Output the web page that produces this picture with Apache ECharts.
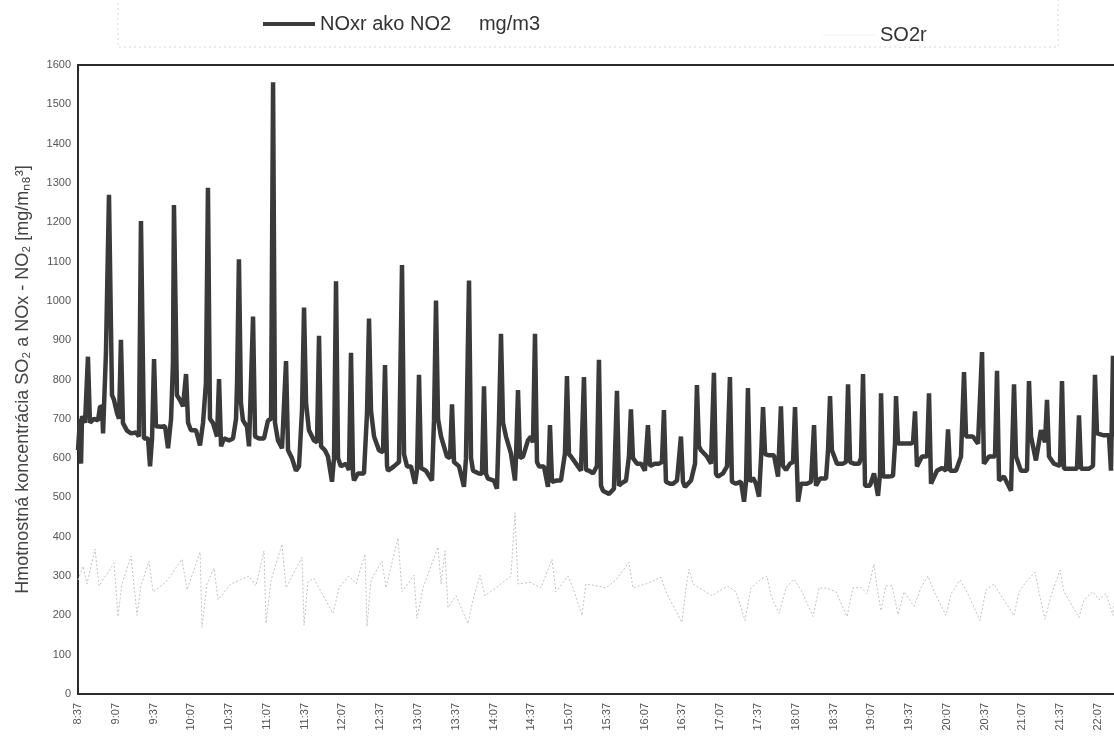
<!DOCTYPE html>
<html><head><meta charset="utf-8">
<script src="https://cdn.jsdelivr.net/npm/echarts@6/dist/echarts.min.js"></script>
<style>html,body{margin:0;padding:0;background:#fff}#c{width:1114px;height:739px}</style>
</head><body><div id="c"></div>
<script>
// x labels every 30 minutes starting at 8:37 (x values = minutes since 8:37)
const timeLabels = ['8:37','9:07','9:37','10:07','10:37','11:07','11:37','12:07','12:37','13:07','13:37','14:07','14:37','15:07','15:37','16:07','16:37','17:07','17:37','18:07','18:37','19:07','19:37','20:07','20:37','21:07','21:37','22:07'];
const noxName = 'NOxr ako NO2     mg/m3';
const so2Name = 'SO2r';
const yTitle = 'Hmotnostná koncentrácia SO₂ a NOx - NO₂ [mg/mₙ₈³]';

// [minutes since 8:37, value]
const noxPoints = [
[0,620],[1.6,700],[2.4,586],[3.2,707],[5.6,690],[7.9,858],[9.5,690],[12.7,700],[15.9,696],[17.5,732],
[19.1,730],[19.9,663],[22.2,868],[24.6,1270],[27.0,760],[28.6,748],[31.0,714],[32.6,700],[34.1,901],[35.7,689],
[38.9,670],[42.1,663],[46.1,665],[48.4,655],[50.0,1203],[52.4,650],[55.6,650],[57.2,579],[58.8,650],[60.4,852],
[61.9,681],[65.9,680],[69.1,681],[71.5,625],[73.9,700],[75.4,842],[76.2,1244],[78.6,760],[81.0,748],[83.4,732],
[85.8,814],[87.4,690],[89.7,671],[93.7,671],[96.9,632],[99.3,690],[101.6,791],[103.2,1288],[104.8,700],[107.2,689],
[110.4,655],[112.0,801],[113.6,630],[115.9,650],[119.9,645],[123.1,650],[125.5,700],[126.3,791],[127.8,1106],[129.4,740],
[131.0,696],[134.2,680],[135.8,630],[139.0,960],[140.6,655],[143.7,650],[147.7,650],[150.9,696],[153.3,700],[154.9,1556],
[156.4,690],[158.8,645],[162.0,625],[165.2,847],[166.8,620],[169.9,600],[173.1,568],[175.5,579],[177.9,722],[179.5,983],
[181.1,740],[183.4,671],[187.4,645],[189.8,640],[191.4,911],[193.0,630],[196.1,620],[198.5,604],[201.7,540],[203.3,600],
[204.9,1050],[206.5,600],[208.8,579],[212.8,586],[215.2,570],[216.8,868],[218.4,560],[219.2,543],[222.3,561],[227.1,561],
[229.5,714],[231.1,955],[232.7,720],[235.1,655],[239.0,620],[242.2,615],[243.8,837],[245.4,580],[246.2,568],[250.9,579],
[254.9,590],[257.3,1091],[258.9,610],[261.3,579],[264.4,579],[267.6,535],[269.2,570],[270.8,812],[272.4,575],[276.3,568],
[281.1,543],[282.7,696],[284.3,1001],[285.9,700],[288.3,655],[293.0,604],[295.4,600],[297.0,737],[298.6,590],[302.6,579],
[306.5,527],[308.1,600],[310.5,1052],[312.1,600],[313.7,568],[318.4,561],[320.8,560],[322.4,783],[324.0,560],[325.6,548],
[330.3,543],[332.7,522],[334.3,696],[335.9,916],[337.5,690],[339.9,655],[343.8,612],[347.0,543],[347.8,600],[349.4,773],
[351.0,600],[353.4,604],[357.3,645],[359.7,655],[361.3,640],[362.9,916],[364.5,590],[366.1,579],[370.0,579],[373.2,527],
[374.8,684],[376.4,540],[380.4,543],[383.5,543],[386.7,612],[388.3,809],[389.9,610],[391.5,604],[395.5,586],[399.4,568],
[401.8,806],[403.4,570],[405.8,568],[409.0,561],[412.1,580],[413.7,850],[415.3,530],[416.9,517],[421.7,509],[425.6,522],
[428.0,771],[429.6,530],[431.2,535],[435.2,543],[437.5,604],[439.1,724],[440.7,600],[443.9,586],[447.1,586],[450.2,568],
[452.6,684],[454.2,580],[458.2,586],[461.4,586],[463.7,590],[465.3,722],[466.9,540],[470.1,535],[472.5,535],[475.7,543],
[478.8,655],[480.4,540],[482.0,527],[486.8,543],[490.0,586],[491.5,786],[493.1,630],[494.7,620],[499.5,604],[502.7,586],
[505.0,817],[506.6,560],[508.2,553],[512.2,561],[515.4,579],[517.7,806],[519.3,540],[522.5,535],[526.5,540],[528.9,489],
[530.5,540],[532.0,778],[533.6,540],[536.0,550],[538.4,535],[540.8,502],[542.4,600],[544.0,730],[545.6,610],[548.7,607],
[552.7,607],[555.9,553],[558.2,732],[559.8,580],[562.2,570],[565.4,586],[567.8,590],[569.4,730],[571.8,489],[574.1,535],
[578.9,535],[582.1,540],[584.5,684],[586.1,530],[589.2,548],[594.0,548],[595.6,620],[597.2,758],[598.7,620],[602.7,586],
[607.5,586],[609.9,590],[611.5,788],[613.1,590],[616.2,586],[620.2,586],[621.8,600],[623.4,814],[625.0,530],[628.9,530],
[632.1,561],[635.3,504],[636.9,560],[637.7,765],[639.3,553],[644.0,553],[647.2,555],[648.8,637],[649.6,758],[651.2,637],
[656.7,637],[661.5,637],[663.1,640],[664.7,719],[666.2,579],[670.2,604],[674.2,604],[675.8,765],[677.4,535],[682.1,568],
[686.1,575],[689.3,568],[690.9,673],[692.5,568],[697.2,568],[701.2,604],[703.6,819],[705.2,655],[710.7,655],[714.7,637],
[717.9,870],[719.4,586],[723.4,604],[728.2,604],[729.8,822],[731.4,543],[735.3,553],[740.9,517],[743.3,788],[744.9,604],
[748.8,568],[753.6,568],[755.2,796],[756.8,655],[760.7,594],[764.7,671],[767.9,640],[769.5,748],[771.1,604],[775.0,586],
[779.8,580],[781.4,796],[783.0,573],[788.5,573],[793.3,573],[794.9,709],[796.5,573],[802.8,573],[806.0,580],[807.6,812],
[809.2,663],[814.7,658],[818.7,658],[820.3,568],[821.9,860],[823.5,655]
];

const so2Points = [
[0,290],[4.0,325],[7.1,280],[13.5,369],[16.7,275],[28.6,333],[31.8,197],[34.9,280],[42.1,351],[46.9,200],
[50.0,275],[56.4,338],[59.6,260],[69.9,285],[82.6,343],[86.6,265],[96.9,361],[98.5,170],[102.4,280],[108.0,320],
[111.2,240],[121.5,280],[135.8,300],[141.3,275],[147.7,364],[149.3,180],[153.3,290],[162.0,381],[165.2,270],[177.9,348],
[179.5,175],[182.6,285],[187.4,294],[193.0,260],[202.5,205],[207.3,270],[215.2,300],[220.8,280],[227.9,356],[229.5,172],
[232.7,290],[241.4,338],[244.6,270],[254.1,397],[257.3,260],[266.8,302],[269.2,192],[274.0,270],[285.9,374],[288.3,280],
[291.4,364],[293.8,220],[300.2,250],[309.7,179],[313.7,240],[319.2,302],[323.2,250],[331.9,270],[343.8,300],[347.0,461],
[349.4,280],[358.9,284],[367.7,270],[376.4,343],[379.6,260],[389.1,300],[393.1,270],[400.2,200],[403.4,280],[410.5,276],
[419.3,270],[427.2,290],[437.5,335],[440.7,270],[451.0,280],[463.0,297],[466.9,260],[479.6,182],[482.8,270],[485.2,317],
[488.4,280],[503.5,250],[510.6,265],[516.2,274],[522.5,260],[529.7,187],[534.4,270],[542.4,292],[547.1,300],[550.3,250],
[556.7,205],[562.2,270],[568.6,292],[574.1,265],[583.7,197],[588.4,270],[594.8,269],[601.9,260],[610.7,197],[615.4,270],
[621.8,271],[626.6,255],[632.1,330],[634.5,270],[637.7,212],[641.6,275],[646.4,275],[651.2,202],[656.0,260],[663.9,223],
[669.4,270],[675.0,300],[679.8,260],[689.3,200],[693.3,255],[700.4,290],[705.2,265],[716.3,187],[721.0,265],[727.4,280],
[733.0,250],[743.3,200],[747.3,260],[752.8,285],[760.0,310],[763.1,260],[767.9,190],[772.7,250],[779.8,315],[783.0,260],
[794.9,195],[798.9,240],[806.0,260],[810.8,240],[816.3,255],[821.9,200],[823.5,250]
];

const FONT = '"Liberation Sans", Arial, sans-serif';
const chart = echarts.init(document.getElementById('c'), null, {renderer: 'canvas'});
chart.setOption({
  animation: false,
  backgroundColor: '#ffffff',
  textStyle: {fontFamily: FONT},
  graphic: [{
    type: 'rect', silent: true, z: -10,
    shape: {x: 118, y: -1, width: 940, height: 48},
    style: {fill: 'none', stroke: '#d6d6d6', lineWidth: 1, lineDash: [2, 3]}
  }],
  legend: [
    {data: [{name: noxName, icon: 'rect'}], left: 258, top: 9, itemWidth: 52, itemHeight: 4,
     itemStyle: {color: '#3a3a3a'},
     textStyle: {fontSize: 20, color: '#333', fontFamily: FONT}},
    {data: [{name: so2Name, icon: 'rect'}], left: 818, top: 20, itemWidth: 52, itemHeight: 1,
     itemStyle: {color: '#f2f2f2'},
     textStyle: {fontSize: 20, color: '#333', fontFamily: FONT}}
  ],
  grid: {left: 78, top: 65, right: 0, bottom: 45},
  xAxis: [{
    type: 'value', min: 0, max: 822.7, interval: 30,
    axisLine: {show: true, lineStyle: {color: '#2b2b2b', width: 2}},
    axisTick: {show: false},
    splitLine: {show: false},
    axisLabel: {
      rotate: 90, fontSize: 11, color: '#555', margin: 9, fontFamily: FONT,
      showMaxLabel: false,
      formatter: function (v) { const i = Math.round(v / 30); return (Math.abs(v - i * 30) < 0.01 && timeLabels[i]) ? timeLabels[i] : ''; }
    }
  }, {
    type: 'value', min: 0, max: 822.7, position: 'top',
    axisLine: {show: true, onZero: false, lineStyle: {color: '#2b2b2b', width: 2}},
    axisTick: {show: false}, axisLabel: {show: false}, splitLine: {show: false}
  }],
  yAxis: {
    type: 'value', min: 0, max: 1600, interval: 100,
    name: yTitle, nameLocation: 'middle', nameGap: 46,
    nameTextStyle: {fontSize: 18, color: '#444', fontFamily: FONT},
    axisLine: {show: true, lineStyle: {color: '#2b2b2b', width: 2}},
    axisTick: {show: false},
    splitLine: {show: false},
    axisLabel: {fontSize: 11, color: '#555', margin: 7, fontFamily: FONT,
      formatter: function (v) { return String(v); }}
  },
  series: [
    {name: so2Name, type: 'line', data: so2Points, symbol: 'none', z: 1,
     lineStyle: {color: '#c2c2c2', width: 1, type: [2, 2]}, itemStyle: {color: '#c2c2c2'}},
    {name: noxName, type: 'line', data: noxPoints, symbol: 'none', z: 2,
     lineStyle: {color: '#3a3a3a', width: 4.5, join: 'bevel'}, itemStyle: {color: '#3a3a3a'}}
  ]
});
</script>
</body></html>
